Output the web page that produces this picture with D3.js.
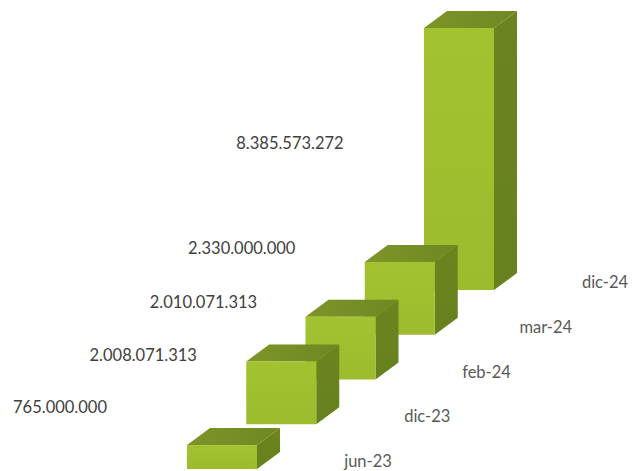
<!DOCTYPE html>
<html>
<head>
<meta charset="utf-8">
<script src="https://cdnjs.cloudflare.com/ajax/libs/d3/7.8.5/d3.min.js"></script>
<style>
html, body { margin: 0; padding: 0; background: #fff; }
svg { display: block; }
text { font-family: Lato, "Open Sans", sans-serif; }
</style>
</head>
<body>
<svg id="chart" width="642" height="471"></svg>
<script>
const categories = ["jun-23", "dic-23", "feb-24", "mar-24", "dic-24"];
const values = [765000000, 2008071313, 2010071313, 2330000000, 8385573272];

// Hand-placed horizontal and vertical nudges for the value labels
const labelNudgeX = [-162, -138, -137, -158, -169];
const labelNudgeY = [-60, -67, -76, -85, -145];

const width = 642, height = 471;
const barWidth = 70, depthX = 23, depthY = 17;

const svg = d3.select("#chart").attr("viewBox", [0, 0, width, height]);

// Each category steps right and up along the receding floor
const floorX = d3.scalePoint().domain(categories).range([187, 424]);
const floorY = d3.scalePoint().domain(categories).range([469, 290]);
const barHeight = d3.scaleLinear().domain([0, d3.max(values)]).range([0, 262]);

const defs = svg.append("defs");
function faceGradient(id, x2, y2, stops) {
  const g = defs.append("linearGradient").attr("id", id)
    .attr("x1", 0).attr("y1", 0).attr("x2", x2).attr("y2", y2);
  stops.forEach(([o, c]) => g.append("stop").attr("offset", o).attr("stop-color", c));
}
faceGradient("front", 0, 1, [[0, "#a2c230"], [1, "#9cbc2e"]]);
faceGradient("top", 1, 0, [[0, "#7d9427"], [1, "#6f8822"]]);
faceGradient("side", 0, 1, [[0, "#6c8420"], [1, "#66811d"]]);

const polygon = d3.line();
const data = categories.map((c, i) => ({ c, v: values[i], i }));

// Painted from the farthest bar forward so nearer boxes overlap
const bars = svg.append("g").selectAll("g")
  .data(data.slice().reverse())
  .join("g");

bars.append("path")
  .attr("fill", "url(#side)")
  .attr("d", d => {
    const x = floorX(d.c) + barWidth, b = floorY(d.c), t = b - barHeight(d.v);
    return polygon([[x, t], [x + depthX, t - depthY], [x + depthX, b - depthY], [x, b]]) + "Z";
  });

bars.append("path")
  .attr("fill", "url(#top)")
  .attr("d", d => {
    const x = floorX(d.c), t = floorY(d.c) - barHeight(d.v);
    return polygon([[x, t], [x + depthX, t - depthY], [x + barWidth + depthX, t - depthY], [x + barWidth, t]]) + "Z";
  });

bars.append("rect")
  .attr("fill", "url(#front)")
  .attr("x", d => floorX(d.c))
  .attr("y", d => floorY(d.c) - barHeight(d.v))
  .attr("width", barWidth)
  .attr("height", d => barHeight(d.v));

// Value labels, written with Spanish thousands separators
const thousands = d3.formatLocale({ decimal: ",", thousands: ".", grouping: [3], currency: ["", ""] }).format(",d");

svg.append("g").selectAll("text")
  .data(data)
  .join("text")
  .attr("x", d => floorX(d.c) + barWidth / 2 + labelNudgeX[d.i])
  .attr("y", d => floorY(d.c) + labelNudgeY[d.i])
  .attr("text-anchor", "middle")
  .attr("dominant-baseline", "middle")
  .attr("font-size", 16.5)
  .attr("fill", "#404040")
  .text(d => thousands(d.v));

// Category labels sit on a parallel diagonal below the boxes
svg.append("g").selectAll("text")
  .data(data)
  .join("text")
  .attr("x", d => floorX(d.c) + 181)
  .attr("y", d => floorY(d.c) - 6)
  .attr("text-anchor", "middle")
  .attr("dominant-baseline", "middle")
  .attr("font-size", 16.5)
  .attr("fill", "#595959")
  .text(d => d.c);
</script>
</body>
</html>
